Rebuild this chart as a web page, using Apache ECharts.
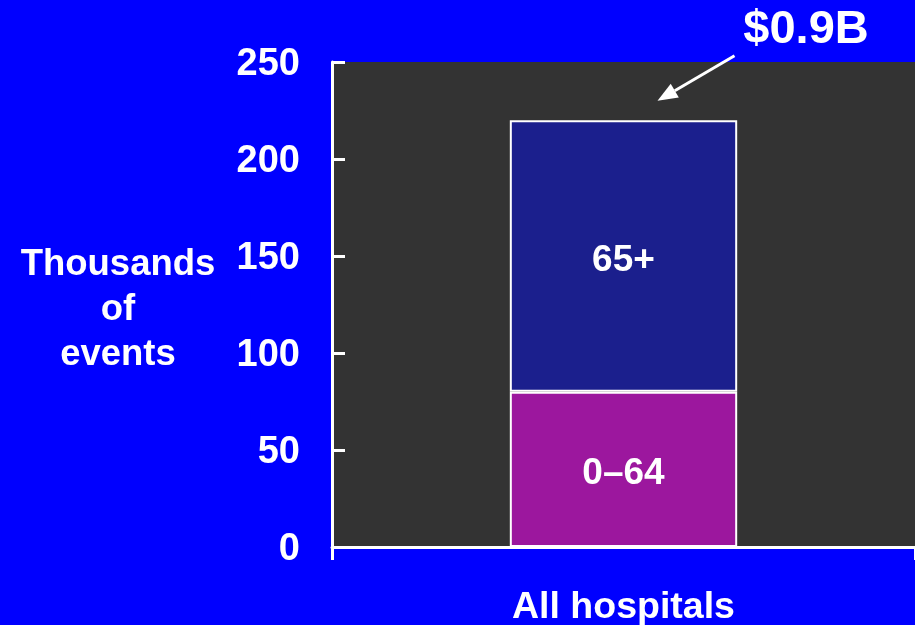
<!DOCTYPE html>
<html>
<head>
<meta charset="utf-8">
<script src="https://cdn.jsdelivr.net/npm/echarts@6/dist/echarts.min.js"></script>
<style>html,body{margin:0;padding:0;background:#0000ff;}#c{width:915px;height:625px;}</style>
</head>
<body>
<div id="c"></div>
<script>
const categories = ['All hospitals'];
const seriesNames = ['0\u201364', '65+'];
const age0to64 = [80];
const age65plus = [140];
const yTicks = [0, 50, 100, 150, 200, 250];
const costLabel = '$0.9B';
const yAxisName = 'Thousands\nof\nevents';

const FONT = '"Liberation Sans", Arial, sans-serif';
const chart = echarts.init(document.getElementById('c'));

const labelStyle = {
  show: true, position: 'inside', color: '#ffffff',
  fontSize: 37, fontWeight: 'bold', fontFamily: FONT,
  verticalAlign: 'top', lineHeight: 37, padding: [-14, 0, 0, 0],
  formatter: p => p.seriesName
};

chart.setOption({
  backgroundColor: '#0000ff',
  animation: false,
  grid: { left: 332, right: 0, top: 62, bottom: 78, show: true, backgroundColor: '#333333', borderWidth: 0,
    containLabel: false, outerBoundsMode: 'none' },
  xAxis: {
    type: 'category', data: categories,
    axisLine: { lineStyle: { color: '#ffffff', width: 3 } },
    axisTick: { show: true, length: 13, lineStyle: { color: '#ffffff', width: 3 } },
    axisLabel: { color: '#ffffff', fontSize: 37.5, fontWeight: 'bold', fontFamily: FONT, margin: 42 }
  },
  yAxis: {
    type: 'value', min: yTicks[0], max: yTicks[yTicks.length - 1], interval: yTicks[1] - yTicks[0],
    splitLine: { show: false },
    axisLine: { show: true, lineStyle: { color: '#ffffff', width: 3 } },
    axisTick: { show: true, inside: true, length: 13, lineStyle: { color: '#ffffff', width: 3 } },
    axisLabel: { color: '#ffffff', fontSize: 38, fontWeight: 'bold', fontFamily: FONT, margin: 32,
      verticalAlign: 'top', lineHeight: 38, padding: [-16, 0, 0, 0] },
    name: yAxisName, nameLocation: 'middle', nameRotate: 0, nameGap: 214,
    nameTextStyle: { color: '#ffffff', fontSize: 36.5, fontWeight: 'bold', fontFamily: FONT, lineHeight: 45,
      align: 'center', verticalAlign: 'top', padding: [-62, 0, 0, 0] }
  },
  series: [
    { name: seriesNames[0], type: 'bar', stack: 'a', data: age0to64, barWidth: '39%',
      itemStyle: { color: '#9c179e', borderColor: '#ffffff', borderWidth: 2 }, label: labelStyle },
    { name: seriesNames[1], type: 'bar', stack: 'a', data: age65plus, barWidth: '39%',
      itemStyle: { color: '#1b1f8d', borderColor: '#ffffff', borderWidth: 2 }, label: labelStyle }
  ]
});

// Annotation arrow pointing at top of stacked bar
const total = age0to64[0] + age65plus[0];
const tip = chart.convertToPixel({ gridIndex: 0 }, [categories[0], total + 10]);
const tipX = tip[0] + 34, tipY = tip[1];
const startX = tipX + 77, startY = tipY - 45;
const ang = Math.atan2(tipY - startY, tipX - startX);
const L = 20, W = 8;
const bx = tipX - L * Math.cos(ang), by = tipY - L * Math.sin(ang);
const px = -Math.sin(ang) * W, py = Math.cos(ang) * W;
chart.setOption({
  graphic: [
    { type: 'line', shape: { x1: startX, y1: startY, x2: bx, y2: by }, style: { stroke: '#ffffff', lineWidth: 3 } },
    { type: 'polygon', shape: { points: [[tipX, tipY], [bx + px, by + py], [bx - px, by - py]] }, style: { fill: '#ffffff' } },
    { type: 'text', x: 806, y: 30, style: { text: costLabel, fill: '#ffffff', fontSize: 47, fontWeight: 'bold', fontFamily: FONT, align: 'center', verticalAlign: 'middle' } }
  ]
});
</script>
</body>
</html>
